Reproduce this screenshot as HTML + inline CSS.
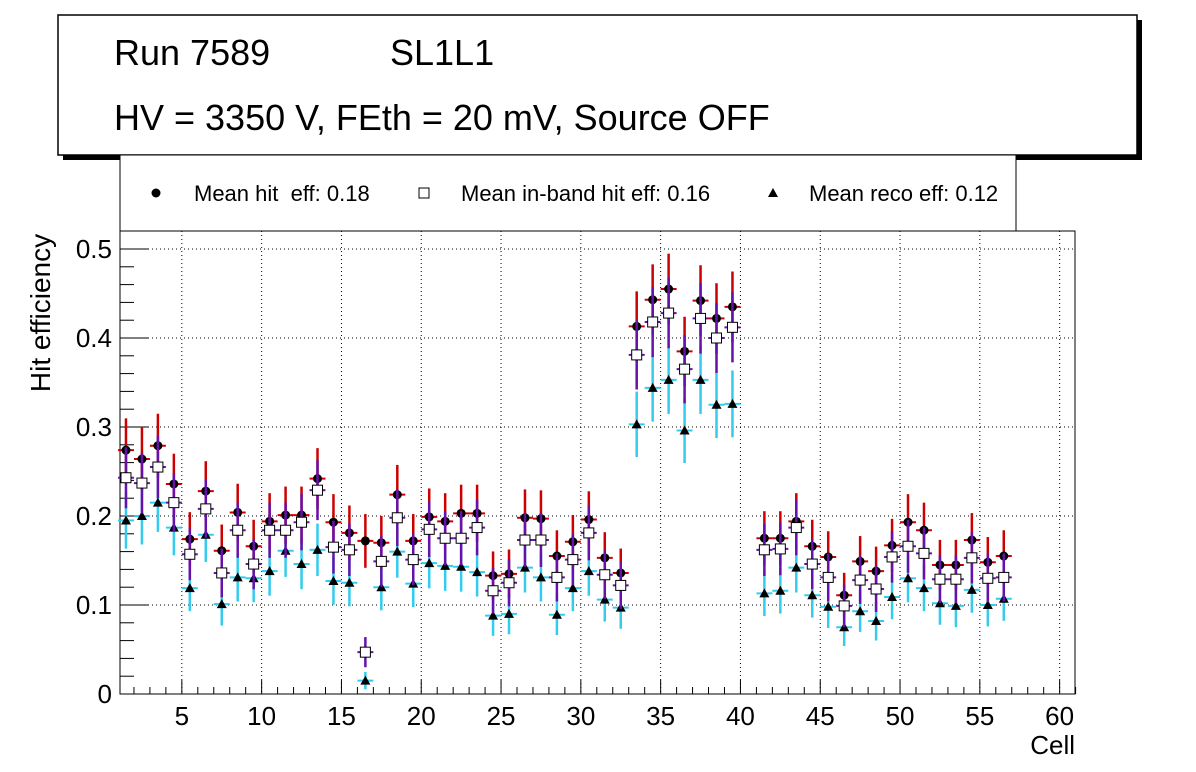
<!DOCTYPE html>
<html><head><meta charset="utf-8"><style>
body{margin:0;background:#fff;}
svg{display:block;font-family:"Liberation Sans",sans-serif;}
</style></head><body>
<svg id="c" width="1196" height="772">
<rect x="63" y="20" width="1079" height="140" fill="#000"/>
<rect x="58" y="15" width="1079" height="140" fill="#fff" stroke="#000" stroke-width="1.5"/>
<text x="114" y="65" font-size="36">Run 7589</text>
<text x="390" y="65" font-size="36">SL1L1</text>
<text x="114" y="130" font-size="36">HV = 3350 V, FEth = 20 mV, Source OFF</text>
<g>
<rect x="120" y="155" width="896" height="76" fill="#fff" stroke="#000" stroke-width="1"/>
<circle cx="156" cy="193" r="4.5" fill="#000"/>
<text x="194" y="201" font-size="22" xml:space="preserve" style="white-space:pre">Mean hit  eff: 0.18</text>
<rect x="419" y="188" width="10" height="10" fill="#fff" stroke="#000"/>
<text x="461" y="201" font-size="22">Mean in-band hit eff: 0.16</text>
<polygon points="773,188 778,197 768,197" fill="#000"/>
<text x="809" y="201" font-size="22">Mean reco eff: 0.12</text>
</g>
<g id="axes"></g>
<g id="marks"></g>
<text transform="translate(50,313) rotate(-90)" text-anchor="middle" font-size="28">Hit efficiency</text>
<text x="1075" y="754" text-anchor="end" font-size="26">Cell</text>
</svg>
<script>
const cells=[1,2,3,4,5,6,7,8,9,10,11,12,13,14,15,16,17,18,19,20,21,22,23,24,25,26,27,28,29,30,31,32,33,34,35,36,37,38,39,41,42,43,44,45,46,47,48,49,50,51,52,53,54,55,56];
const hitEff=[0.274,0.264,0.279,0.236,0.174,0.228,0.161,0.204,0.166,0.194,0.201,0.201,0.242,0.193,0.181,0.172,0.17,0.224,0.172,0.199,0.194,0.203,0.203,0.133,0.135,0.198,0.197,0.155,0.171,0.196,0.153,0.136,0.413,0.443,0.455,0.385,0.442,0.422,0.435,0.175,0.175,0.194,0.166,0.154,0.111,0.149,0.138,0.167,0.193,0.184,0.145,0.145,0.173,0.148,0.155];
const bandEff=[0.243,0.237,0.255,0.215,0.157,0.208,0.136,0.184,0.146,0.184,0.184,0.193,0.229,0.165,0.162,0.047,0.149,0.198,0.151,0.185,0.175,0.175,0.187,0.116,0.125,0.173,0.173,0.131,0.151,0.181,0.134,0.122,0.381,0.418,0.428,0.365,0.422,0.4,0.412,0.162,0.163,0.187,0.146,0.131,0.099,0.128,0.118,0.154,0.166,0.158,0.129,0.129,0.153,0.13,0.131];
const recoEff=[0.195,0.2,0.215,0.187,0.119,0.179,0.101,0.131,0.13,0.138,0.161,0.146,0.162,0.127,0.125,0.015,0.12,0.16,0.124,0.147,0.144,0.143,0.137,0.088,0.09,0.142,0.131,0.089,0.119,0.138,0.106,0.097,0.303,0.344,0.353,0.296,0.353,0.325,0.326,0.113,0.116,0.142,0.111,0.098,0.075,0.093,0.082,0.109,0.13,0.119,0.102,0.099,0.117,0.1,0.107];
const xTicks=[5,10,15,20,25,30,35,40,45,50,55,60];
const yTicks=[0,0.1,0.2,0.3,0.4,0.5];
const NS='http://www.w3.org/2000/svg';
const L=120,R=1075,T=231,B=694;
const X=v=>118+(v-1)*15.96;
const Y=v=>694-v*890;
function mk(tag,attrs,parent){const e=document.createElementNS(NS,tag);for(const k in attrs)e.setAttribute(k,attrs[k]);parent.appendChild(e);return e;}
const ax=document.getElementById('axes'),mg=document.getElementById('marks');
const frame=mk('rect',{x:L,y:T,width:R-L,height:B-T,fill:'none',stroke:'#000','stroke-width':1},ax);


xTicks.forEach(t=>{
 const gl=mk('line',{x1:X(t),x2:X(t),y1:T,y2:B,stroke:'#000','stroke-dasharray':'1,3','stroke-width':1},ax);
 
 
 mk('line',{x1:X(t),x2:X(t),y1:B,y2:B-14,stroke:'#000'},ax);
 const tx=mk('text',{x:X(t),y:B+31,'text-anchor':'middle','font-size':26},ax);tx.textContent=t;
 
 
});
for(let v=2;v<=61;v++){ if(v%5) mk('line',{x1:X(v),x2:X(v),y1:B,y2:B-7,stroke:'#000'},ax);}
yTicks.forEach(t=>{
 const gl=mk('line',{x1:L,x2:R,y1:Y(t),y2:Y(t),stroke:'#000','stroke-dasharray':'1,3','stroke-width':1},ax);
 
 
 mk('line',{x1:L,x2:L+28,y1:Y(t),y2:Y(t),stroke:'#000'},ax);
 const tx=mk('text',{x:L-8,y:Y(t)+9,'text-anchor':'end','font-size':26},ax);tx.textContent=t;
 
 
});
for(let v=0.02;v<0.52;v+=0.02){ mk('line',{x1:L,x2:L+14,y1:Y(v),y2:Y(v),stroke:'#000'},ax);}
const err=v=>0.08*Math.sqrt(v*(1-v));
function series(vals,color,shape,name){
 cells.forEach((c,i)=>{
  const v=vals[i],cx=X(c+0.5),cy=Y(v),e=err(v);
  const g=mk('g',{},mg);
  
  
  mk('line',{x1:cx,x2:cx,y1:Y(v+e),y2:Y(v-e),stroke:color,'stroke-width':2.5},g);
  mk('line',{x1:X(c),x2:X(c+1),y1:cy,y2:cy,stroke:color,'stroke-width':2},g);
  if(shape==='c') mk('circle',{cx,cy,r:4.5,fill:'#000'},g);
  else if(shape==='s') mk('rect',{x:cx-5,y:cy-5,width:10,height:10,fill:'#fff',stroke:'#000'},g);
  else mk('polygon',{points:`${cx},${cy-5} ${cx+5},${cy+4} ${cx-5},${cy+4}`,fill:'#000'},g);
 });
}
series(recoEff,'#33ccee','t','reco-eff-point');
series(hitEff,'#cc0000','c','hit-eff-point');
series(bandEff,'#6611aa','s','inband-eff-point');
</script>
</body></html>
